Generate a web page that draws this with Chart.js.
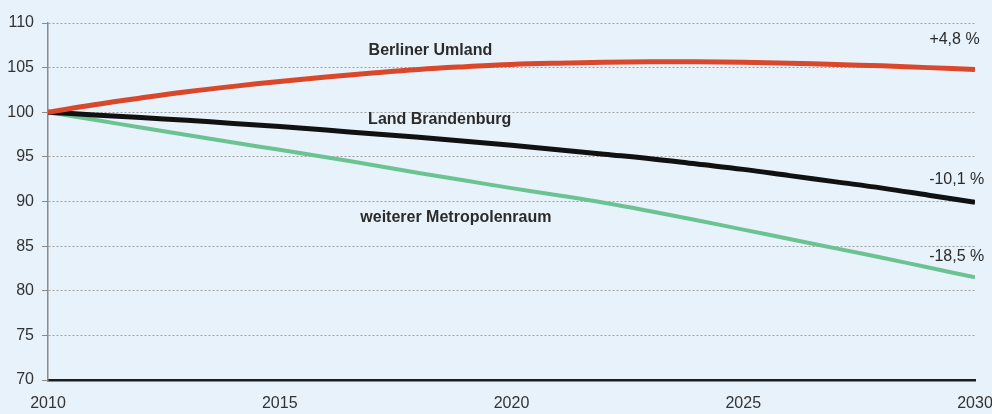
<!DOCTYPE html>
<html lang="de">
<head>
<meta charset="utf-8">
<title>Bevölkerungsentwicklung 2010–2030</title>
<script src="https://cdn.jsdelivr.net/npm/chart.js@4.4.1/dist/chart.umd.min.js"></script>
<style>
  html, body { margin: 0; padding: 0; background: #e7f2fb; }
  .wrap { position: relative; width: 992px; height: 414px; }
</style>
</head>
<body>
<div class="wrap"><canvas id="popChart"></canvas></div>
<script>
Chart.defaults.font.family = "'Liberation Sans', Arial, sans-serif";
Chart.defaults.plugins.legend.display = false;
Chart.defaults.plugins.tooltip.enabled = false;

// Index 2010 = 100
const YEARS = [2010,2011,2012,2013,2014,2015,2016,2017,2018,2019,2020,2021,2022,2023,2024,2025,2026,2027,2028,2029,2030];
const UMLAND      = [100,100.85,101.6,102.3,102.9,103.45,103.95,104.4,104.8,105.1,105.35,105.5,105.6,105.65,105.65,105.6,105.5,105.35,105.2,105.0,104.8];
const BRANDENBURG = [100,99.7,99.4,99.1,98.75,98.4,98.0,97.6,97.2,96.75,96.3,95.8,95.3,94.8,94.2,93.6,92.9,92.2,91.5,90.7,89.9];
const METROPOLE   = [100,99.15,98.3,97.45,96.6,95.8,94.95,94.1,93.2,92.35,91.5,90.7,89.85,88.9,87.9,86.85,85.8,84.75,83.7,82.6,81.5];

const SERIES_NAMES = ['Berliner Umland', 'Land Brandenburg', 'weiterer Metropolenraum'];
const END_LABELS   = ['+4,8 %', '-10,1 %', '-18,5 %'];
const Y_MIN = 70, Y_MAX = 110, Y_STEP = 5;
const X_STEP = 5;

const toPoints = vals => vals.map((v, i) => ({ x: YEARS[i], y: v }));

/* ── text labels inside the plot ───────────────── */
const seriesLabels = {
  id: 'seriesLabels',
  afterDatasetsDraw(chart) {
    const { ctx, scales: { x, y } } = chart;
    ctx.save();
    ctx.fillStyle = '#2b2b2b';
    ctx.textBaseline = 'middle';

    ctx.font = "bold 16px 'Liberation Sans', Arial, sans-serif";
    ctx.textAlign = 'center';
    const names = [[2018.25, 106.9], [2018.45, 99.2], [2018.8, 88.15]];
    SERIES_NAMES.forEach((t, i) => ctx.fillText(t, x.getPixelForValue(names[i][0]), y.getPixelForValue(names[i][1])));

    ctx.font = "16px 'Liberation Sans', Arial, sans-serif";
    ctx.textAlign = 'right';
    const ends = [[2030.1, 108.1], [2030.2, 92.5], [2030.2, 83.8]];
    END_LABELS.forEach((t, i) => ctx.fillText(t, x.getPixelForValue(ends[i][0]), y.getPixelForValue(ends[i][1])));
    ctx.restore();
  },
};

new Chart(document.getElementById('popChart'), {
  type: 'line',
  data: {
    datasets: [
      { data: toPoints(UMLAND),      borderColor: '#d9482a', borderWidth: 5, tension: 0.4, pointRadius: 0 },
      { data: toPoints(BRANDENBURG), borderColor: '#111111', borderWidth: 5, tension: 0.4, pointRadius: 0 },
      { data: toPoints(METROPOLE),   borderColor: '#6cc392', borderWidth: 4, tension: 0.4, pointRadius: 0 },
    ],
  },
  options: {
    responsive: true, maintainAspectRatio: false, animation: false,
    layout: { padding: { top: 23, right: 17, left: 0, bottom: 0 } },
    scales: {
      x: {
        type: 'linear', min: YEARS[0], max: YEARS[YEARS.length - 1],
        afterFit: s => { s.height = 34; s.paddingLeft = 0; s.paddingRight = 0; },
        grid: { display: false, drawTicks: false },
        border: { color: '#1e1e1e', width: 2.5 },
        ticks: { stepSize: X_STEP, padding: 14, color: '#333', font: { size: 16 }, callback: v => String(v), maxRotation: 0 },
      },
      y: {
        min: Y_MIN, max: Y_MAX,
        afterFit: s => { s.width = 48; s.paddingTop = 0; s.paddingBottom = 0; },
        grid: {
          color: c => c.tick && c.tick.value === Y_MIN ? 'rgba(0,0,0,0)' : '#a0a0a0',
          lineWidth: 1, tickLength: 6, tickColor: '#8a8a8a', tickBorderDash: [],
        },
        border: { color: '#8a8a8a', width: 1.5, dash: [2, 2] },
        ticks: { stepSize: Y_STEP, padding: 8, color: '#333', font: { size: 16 } },
      },
    },
  },
  plugins: [seriesLabels],
});
</script>
</body>
</html>
